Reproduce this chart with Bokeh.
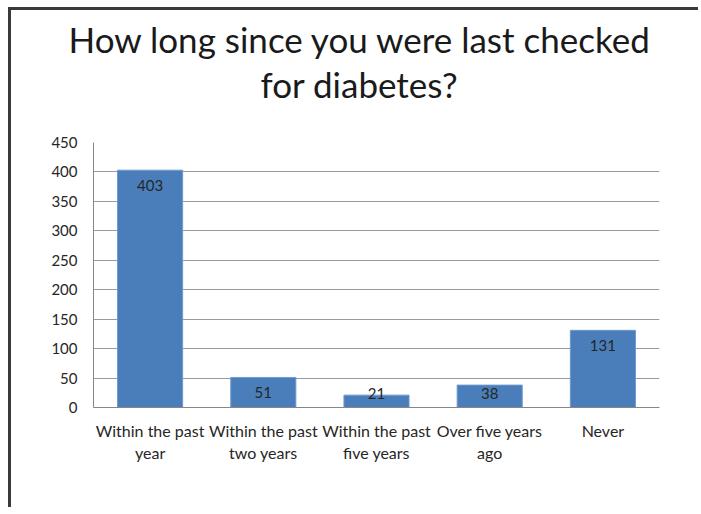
import numpy as np
from bokeh.plotting import figure
from bokeh.models import (ColumnDataSource, Range1d, Title, LinearAxis,
                          FixedTicker)
from bokeh.core.properties import value
from bokeh.embed import file_html
from bokeh.resources import INLINE

# ---- data ----
categories = ["Within the past year", "Within the past two years",
              "Within the past five years", "Over five years ago", "Never"]
tick_line1 = ["Within the past", "Within the past", "Within the past",
              "Over five years", "Never"]
tick_line2 = ["year", "two years", "five years", "ago", ""]
counts = [403, 51, 21, 38, 131]
y_ticks = [0, 50, 100, 150, 200, 250, 300, 350, 400, 450]
title_lines = ["How long since you were last checked", "for diabetes?"]

FONT = "Lato"
TXT = "#262626"

vals = np.array(counts, dtype=float)
xpos = np.arange(len(categories)) + 0.5
label_y = np.maximum(vals - 26, 24)
src = ColumnDataSource(dict(x=xpos, cat=categories, val=counts, ly=label_y,
                            txt=[str(c) for c in counts]))

p = figure(x_range=Range1d(0, len(categories)),
           y_range=Range1d(0, 450),
           width=690, height=500,
           min_border_left=82, min_border_right=42,
           min_border_top=132, min_border_bottom=103,
           output_backend="svg", toolbar_location=None, tools="")

p.styles = {"border-left": "3px solid #3a3a3a", "border-top": "3px solid #3a3a3a",
            "margin-left": "8px", "margin-top": "7px"}

xa = p.below[0]   # default bottom axis
ya = p.left[0]    # default left axis

# invisible spacer between the frame and the title lines
spacer = LinearAxis(ticker=FixedTicker(ticks=[0.02]), axis_line_color=None,
                    major_tick_line_color="white", minor_tick_line_color=None,
                    major_tick_out=38, major_tick_in=0, minor_tick_out=0,
                    minor_tick_in=0, major_label_standoff=0,
                    major_label_text_color=None)
p.title = None
p.add_layout(spacer, "above")

# titles (bottom line first so it sits closest to the frame)
t2 = Title(text=title_lines[1], align="left", text_font=FONT,
           text_font_size="35px", text_font_style="normal", text_color="#1a1a1a",
           standoff=0, offset=167)
t1 = Title(text=title_lines[0], align="left", text_font=FONT,
           text_font_size="35px", text_font_style="normal", text_color="#1a1a1a",
           standoff=2, offset=-25)
p.add_layout(t2, "above")
p.add_layout(t1, "above")

p.vbar(x="x", top="val", width=0.575, source=src,
       fill_color="#4a7ebb", line_color="#6e99cf", line_width=1)

p.text(x="x", y="ly", text="txt", source=src,
       text_align="center", text_baseline="middle",
       text_font=value(FONT), text_font_size="15px", text_color=TXT)

p.outline_line_color = None
p.background_fill_color = "white"
p.border_fill_color = "white"
p.xgrid.grid_line_color = None
p.ygrid.grid_line_color = "#9a9a9a"
p.ygrid.grid_line_width = 1

ya.ticker = FixedTicker(ticks=y_ticks)
ya.axis_line_color = "#868686"
ya.major_tick_line_color = None
ya.minor_tick_line_color = None
ya.major_tick_out = 0
ya.major_tick_in = 0
ya.major_label_standoff = 16
ya.major_label_text_font = FONT
ya.major_label_text_font_size = "15px"
ya.major_label_text_color = TXT

xa.ticker = FixedTicker(ticks=list(xpos))
xa.axis_line_color = "#868686"
xa.major_tick_line_color = None
xa.minor_tick_line_color = None
xa.major_tick_out = 0
xa.major_tick_in = 0
xa.major_label_standoff = 13
xa.major_label_text_font = FONT
xa.major_label_text_font_size = "16px"
xa.major_label_text_color = TXT
xa.major_label_overrides = {float(k): v for k, v in zip(xpos, tick_line1)}

xa2 = LinearAxis(ticker=FixedTicker(ticks=list(xpos)),
                 axis_line_color=None, major_tick_line_color=None,
                 minor_tick_line_color=None,
                 major_tick_out=0, major_tick_in=0, major_label_standoff=0,
                 major_label_text_font=FONT, major_label_text_font_size="16px",
                 major_label_text_color=TXT,
                 major_label_overrides={float(k): v for k, v in zip(xpos, tick_line2)})
p.add_layout(xa2, "below")

open("out.html", "w").write(file_html(p, INLINE))
